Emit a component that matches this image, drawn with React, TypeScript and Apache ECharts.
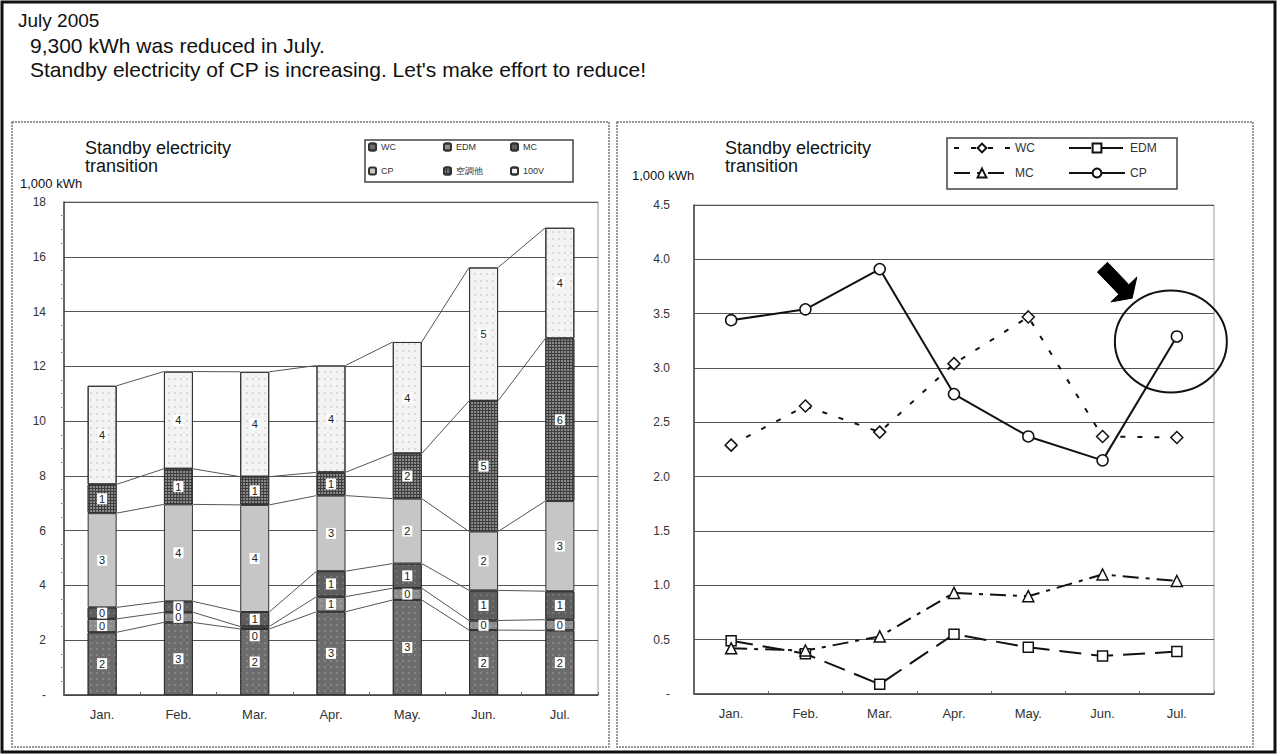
import React, { useEffect, useRef } from "react";
import * as echarts from "echarts";

// Months shown on both charts
const months = ["Jan.", "Feb.", "Mar.", "Apr.", "May.", "Jun.", "Jul."];

// Standby electricity per machine group (1,000 kWh)
const wc = [2.29, 2.65, 2.41, 3.04, 3.47, 2.37, 2.36];
const edm = [0.49, 0.37, 0.09, 0.55, 0.43, 0.35, 0.39];
const mc = [0.42, 0.4, 0.53, 0.93, 0.9, 1.1, 1.04];
const cp = [3.44, 3.54, 3.91, 2.76, 2.37, 2.15, 3.29];
const aircon = [1.05, 1.3, 1.03, 0.85, 1.65, 4.77, 5.94];
const v100 = [3.6, 3.55, 3.83, 3.9, 4.07, 4.87, 4.04];

const stackNames = ["WC", "EDM", "MC", "CP", "空調他", "100V"];
const stackValues = [wc, edm, mc, cp, aircon, v100];

// Legend columns (left chart: 3 columns of 2, right chart: 2 columns of 2)
const barLegendColumns = [["WC", "CP"], ["EDM", "空調他"], ["MC", "100V"]];
const lineLegendColumns = [["WC", "MC"], ["EDM", "CP"]];

// Axis ticks
const leftTicks = { min: 0, max: 18, interval: 2 };
const rightTicks = { min: 0, max: 4.5, interval: 0.5 };

const headerLines = [
  "July 2005",
  "9,300 kWh was reduced in July.",
  "Standby electricity of CP is increasing. Let's make effort to reduce!",
];
const panelTitle = "Standby electricity\ntransition";
const unitLabel = "1,000 kWh";

const FONT = "Liberation Sans, Arial, sans-serif";

// cumulative tops of every stacked segment, used for the connecting series lines
const cumulative = (() => {
  const out: number[][] = [];
  let run = months.map(() => 0);
  stackValues.forEach((arr) => {
    run = run.map((v, i) => v + arr[i]);
    out.push(run.slice());
  });
  return out;
})();

const BAR_W = 29;

const barStyles = [
  { color: "#6c6c6c", decal: { symbol: "rect", symbolSize: 0.6, color: "rgba(255,255,255,0.55)", dashArrayX: [2, 4], dashArrayY: [2, 4] } },
  { color: "#8c8c8c", decal: { symbol: "rect", symbolSize: 0.6, color: "rgba(255,255,255,0.5)", dashArrayX: [2, 3], dashArrayY: [2, 3] } },
  { color: "#5e5e5e", decal: { symbol: "rect", symbolSize: 0.6, color: "rgba(255,255,255,0.45)", dashArrayX: [2, 4], dashArrayY: [2, 4] } },
  { color: "#c6c6c6", decal: null },
  { color: "#3e3e3e", decal: { symbol: "circle", symbolSize: 0.9, color: "rgba(200,200,200,0.75)", dashArrayX: [2, 1], dashArrayY: [2, 1] } },
  { color: "#f3f3f3", decal: { symbol: "rect", symbolSize: 0.6, color: "#9a9a9a", dashArrayX: [2, 4], dashArrayY: [2, 5] } },
];

const axisLabelStyle = { fontFamily: FONT, fontSize: 13, color: "#333" };
const yLabelStyle = { fontFamily: FONT, fontSize: 12, color: "#333" };

const categoryAxis = {
  type: "category",
  data: months,
  axisLine: { lineStyle: { color: "#444", width: 1.5 } },
  axisTick: { show: true, inside: true, length: 3, lineStyle: { color: "#666" } },
  axisLabel: { ...axisLabelStyle, margin: 13 },
  splitLine: { show: false },
};

const titleText = (left: number) => ({
  type: "text",
  left,
  top: 139,
  style: { text: panelTitle, font: `18px ${FONT}`, fill: "#111", lineHeight: 18 },
});
const unitText = (left: number, top: number) => ({
  type: "text",
  left,
  top,
  style: { text: unitLabel, font: `13px ${FONT}`, fill: "#111" },
});

function buildBarOption() {
  const barSeries = stackNames.map((name, k) => ({
    name,
    type: "bar",
    stack: "total",
    barWidth: BAR_W,
    data: stackValues[k],
    itemStyle: {
      color: barStyles[k].color,
      borderColor: "#333",
      borderWidth: 1,
      decal: barStyles[k].decal || undefined,
    },
    label: {
      show: true,
      position: "inside",
      formatter: (p: any) => String(Math.round(p.value)),
      fontFamily: FONT,
      fontSize: 11,
      color: "#222",
      backgroundColor: "#fff",
      padding: [0, 2],
      lineHeight: 11,
    },
    // the thinnest EDM slice (March) puts its number just under the MC one
    labelLayout: name === "EDM" ? (p: any) => (p.dataIndex === 2 ? { dy: 8 } : {}) : undefined,
  }));

  // Excel-style series lines joining segment tops between neighbouring bars
  const seriesLines = {
    type: "custom",
    silent: true,
    z: 1,
    data: months.slice(0, -1).map((_, i) => [i, 0]),
    encode: { x: 0, y: 1 },
    renderItem: (params: any, api: any) => {
      const i = api.value(0);
      const half = BAR_W / 2;
      return {
        type: "group",
        children: cumulative.map((lv) => {
          const p1 = api.coord([i, lv[i]]);
          const p2 = api.coord([i + 1, lv[i + 1]]);
          return {
            type: "line",
            shape: { x1: p1[0] + half, y1: p1[1], x2: p2[0] - half, y2: p2[1] },
            style: { stroke: "#555", lineWidth: 1 },
          };
        }),
      };
    },
  };

  const colLeft = [368, 443, 510];
  const legends = barLegendColumns.map((data, c) => ({
    data,
    orient: "vertical",
    left: colLeft[c],
    top: 142,
    padding: 0,
    itemWidth: 7,
    itemHeight: 7,
    itemGap: 14,
    selectedMode: false,
    textStyle: { fontFamily: FONT, fontSize: 9, color: "#333", lineHeight: 10 },
  }));

  return {
    animation: false,
    backgroundColor: "#fff",
    textStyle: { fontFamily: FONT },
    grid: { left: 64, top: 202, width: 534, height: 493, show: true, borderColor: "#999", borderWidth: 1 },
    xAxis: categoryAxis,
    yAxis: {
      type: "value",
      ...leftTicks,
      axisLine: { show: true, lineStyle: { color: "#444", width: 1.5 } },
      axisTick: { show: false },
      minorTick: { show: true, splitNumber: 4, length: 3, lineStyle: { color: "#999" } },
      axisLabel: { ...yLabelStyle, margin: 18, formatter: (v: number) => (v === 0 ? "-" : String(v)) },
      splitLine: { lineStyle: { color: "#555", width: 1.2 } },
    },
    legend: legends,
    series: [...barSeries, seriesLines],
    graphic: [
      { type: "rect", shape: { x: 2, y: 2, width: 1273, height: 750 }, style: { fill: "none", stroke: "#111", lineWidth: 3 }, z: 10 },
      { type: "rect", shape: { x: 12, y: 122, width: 597, height: 625 }, style: { fill: "none", stroke: "#777", lineWidth: 1.5, lineDash: [2, 1] } },
      { type: "rect", shape: { x: 617, y: 122, width: 636, height: 625 }, style: { fill: "none", stroke: "#777", lineWidth: 1.5, lineDash: [2, 1] } },
      { type: "rect", shape: { x: 365, y: 140, width: 208, height: 42 }, style: { fill: "#fff", stroke: "#444", lineWidth: 1.5 }, z: 0 },
      titleText(85),
      unitText(20, 177),
      ...headerLines.map((t, i) => ({
        type: "text",
        left: i === 0 ? 18 : 30,
        top: 11 + i * 24,
        style: { text: t, font: `${i === 0 ? 19 : 21}px ${FONT}`, fill: "#111" },
      })),
    ],
  };
}

function buildLineOption() {
  const lineCommon = {
    type: "line",
    symbolSize: 10,
    itemStyle: { color: "#fff", borderColor: "#111", borderWidth: 1.5 },
  };
  const colLeft = [953, 1068];
  const legends = lineLegendColumns.map((data, c) => ({
    data,
    orient: "vertical",
    left: colLeft[c],
    top: 141,
    padding: 0,
    itemWidth: 56,
    itemHeight: 11,
    itemGap: 11,
    selectedMode: false,
    textStyle: { fontFamily: FONT, fontSize: 12, color: "#333", lineHeight: 14 },
  }));
  return {
    animation: false,
    backgroundColor: "transparent",
    textStyle: { fontFamily: FONT },
    grid: { left: 694, top: 205, width: 520, height: 489, show: true, borderColor: "#999", borderWidth: 1 },
    xAxis: categoryAxis,
    yAxis: {
      type: "value",
      ...rightTicks,
      axisLine: { show: true, lineStyle: { color: "#444", width: 1.5 } },
      axisTick: { show: false },
      axisLabel: { ...yLabelStyle, margin: 24, formatter: (v: number) => (v === 0 ? "-" : v.toFixed(1)) },
      splitLine: { lineStyle: { color: "#555", width: 1.2 } },
    },
    legend: legends,
    series: [
      { ...lineCommon, name: "WC", data: wc, symbol: "diamond", symbolSize: 12, lineStyle: { color: "#111", width: 2, type: [5, 12] } },
      { ...lineCommon, name: "EDM", data: edm, symbol: "rect", lineStyle: { color: "#111", width: 2, type: [22, 10] } },
      { ...lineCommon, name: "MC", data: mc, symbol: "triangle", symbolSize: 11, lineStyle: { color: "#111", width: 2, type: [16, 7, 4, 7] } },
      { ...lineCommon, name: "CP", data: cp, symbol: "circle", symbolSize: 11, lineStyle: { color: "#111", width: 2 } },
    ],
    graphic: [
      { type: "rect", shape: { x: 947, y: 138, width: 230, height: 51 }, style: { fill: "#fff", stroke: "#444", lineWidth: 1.5 }, z: 0 },
      titleText(725),
      unitText(632, 169),
    ],
  };
}

export default function App() {
  const barRef = useRef<HTMLDivElement>(null);
  const lineRef = useRef<HTMLDivElement>(null);

  useEffect(() => {
    document.body.style.margin = "0";
    if (!barRef.current || !lineRef.current) return;
    const barChart = echarts.init(barRef.current, undefined, { renderer: "svg", width: 1278, height: 755 });
    const lineChart = echarts.init(lineRef.current, undefined, { renderer: "svg", width: 1278, height: 755 });

    barChart.setOption(buildBarOption() as any);
    const lineOption: any = buildLineOption();
    lineChart.setOption(lineOption);

    // Ring and pointer arrow drawn around the July CP value
    const pt = lineChart.convertToPixel({ gridIndex: 0 } as any, [6, cp[6]]) as number[];
    if (pt) {
      const [px, py] = pt;
      const u = [0.69, 0.72];
      const p = [0.72, -0.69];
      const B = [px - 53, py - 47];
      const S = [B[0] - 31 * u[0], B[1] - 31 * u[1]];
      const T = [B[0] + 12 * u[0], B[1] + 12 * u[1]];
      const off = (q: number[], k: number) => [q[0] + k * p[0], q[1] + k * p[1]];
      lineChart.setOption({
        graphic: [
          ...lineOption.graphic,
          { type: "ellipse", shape: { cx: px - 6, cy: py + 5, rx: 56, ry: 51 }, style: { fill: "none", stroke: "#111", lineWidth: 2 }, z: 20 },
          {
            type: "polygon",
            shape: { points: [off(S, 7), off(B, 7), off(B, 18), T, off(B, -18), off(B, -7), off(S, -7)] },
            style: { fill: "#000", stroke: "#000", lineWidth: 1 },
            z: 20,
          },
        ],
      });
    }

    return () => {
      barChart.dispose();
      lineChart.dispose();
    };
  }, []);

  return (
    <div style={{ position: "absolute", left: 0, top: 0, width: 1278, height: 755 }}>
      <div ref={barRef} style={{ position: "absolute", left: 0, top: 0, width: 1278, height: 755 }} />
      <div ref={lineRef} style={{ position: "absolute", left: 0, top: 0, width: 1278, height: 755 }} />
    </div>
  );
}
